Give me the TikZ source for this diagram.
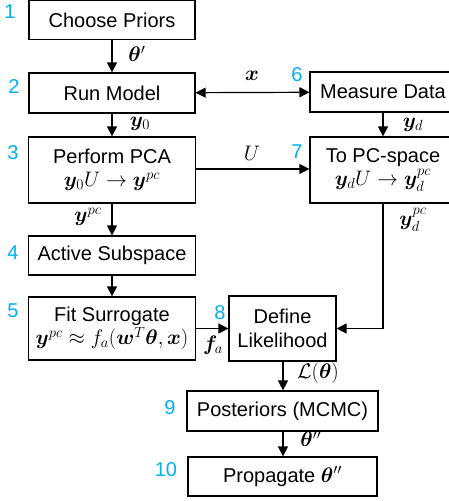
\documentclass[tikz,border=0pt]{standalone}
\usepackage{fix-cm}
\usepackage{amsmath,amssymb}
\usepackage{bm}
\usepackage{fontspec}
\setmainfont{Liberation Sans}
\usetikzlibrary{arrows.meta}
\definecolor{stepnum}{HTML}{00B0F0}
% slightly larger size for the formulas
\newcommand{\mathline}{\fontsize{21}{23}\selectfont}

\begin{document}
\begin{tikzpicture}[x=1pt,y=-1pt,
  box/.style={draw, line width=1.2pt, inner sep=0pt, align=center,
    font=\fontsize{20}{23}\selectfont},
  flow/.style={line width=1.2pt, -{Triangle[length=10pt,width=10pt]}},
  twoway/.style={line width=1.2pt, {Triangle[length=10pt,width=10pt]}-{Triangle[length=10pt,width=10pt]}},
  num/.style={text=stepnum, font=\fontsize{20}{24}\selectfont, inner sep=0pt},
  lbl/.style={font=\fontsize{21}{24}\selectfont, inner sep=0pt}]
\useasboundingbox (0,0) rectangle (449,501);
\clip (0,0) rectangle (449,501);

% process boxes
\node[box, minimum width=166pt, minimum height=39pt] (prior) at (112,20) {Choose Priors};
\node[box, minimum width=166pt, minimum height=40pt] (run) at (112,93) {Run Model};
\node[box, minimum width=146pt, minimum height=40pt] (meas) at (383,92) {Measure Data};
\node[box, minimum width=167pt, minimum height=66pt] (pca) at (112,170)
  {Perform PCA\\[0pt] {\mathline $\bm{y}_0U \rightarrow \bm{y}^{pc}$}};
\node[box, minimum width=146pt, minimum height=66pt] (pcs) at (383,170)
  {To PC-space\\[0pt] {\mathline $\bm{y}_dU \rightarrow \bm{y}_d^{pc}$}};
\node[box, minimum width=167pt, minimum height=39pt] (act) at (112,255.5) {Active Subspace};
\node[box, minimum width=167pt, minimum height=63pt] (fit) at (112,328.5)
  {Fit Surrogate\\[0pt] {\mathline $\bm{y}^{pc} \approx f_a(\bm{w}^T\bm{\theta},\bm{x})$}};
\node[box, minimum width=107pt, minimum height=65pt] (lik) at (282.5,328.5)
  {Define\\[1pt] Likelihood};
\node[box, minimum width=191pt, minimum height=40pt] (post) at (282.5,411) {Posteriors (MCMC)};
\node[box, minimum width=189pt, minimum height=39pt] (prop) at (282.5,476.5)
  {Propagate {\mathline $\bm{\theta}''$}};

% step numbers
\node[num] (n1) at (10,12) {1};
\node[num] (n2) at (14,87) {2};
\node[num] (n3) at (13,153) {3};
\node[num] (n4) at (13,253) {4};
\node[num] (n5) at (13,311) {5};
\node[num] (n6) at (297,75) {6};
\node[num] (n7) at (297,152) {7};
\node[num] (n8) at (220,313) {8};
\node[num] (n9) at (170,408) {9};
\node[num] (n10) at (166,470) {10};

% connectors
\draw[flow] (prior) -- (run);
\draw[flow] (run) -- (pca);
\draw[flow] (pca) -- (act);
\draw[flow] (act) -- (fit);
\draw[twoway] (run) -- (meas);
\draw[flow] (pca.east |- 0,169) -- (pcs.west |- 0,169);
\draw[flow] (meas) -- (pcs);
\draw[flow] (fit) -- (lik);
\draw[flow] (pcs.south) |- (lik.east);
\draw[flow] (lik.south -| 283,0) -- (post.north -| 283,0);
\draw[flow] (post.south -| 283,0) -- (prop.north -| 283,0);

% connector labels
\node[lbl] (l1) at (137,54) {$\bm{\theta}'$};
\node[lbl] (l2) at (140,124) {$\bm{y}_0$};
\node[lbl] (l3) at (252,76) {$\bm{x}$};
\node[lbl] (l4) at (252,153) {$U$};
\node[lbl] (l5) at (413,125) {$\bm{y}_d$};
\node[lbl] (l6) at (88,217) {$\bm{y}^{pc}$};
\node[lbl] (l7) at (413,220) {$\bm{y}_d^{pc}$};
\node[lbl] (l8) at (213,345) {$\bm{f}_a$};
\node[lbl] (l9) at (318,373) {$\mathcal{L}(\bm{\theta})$};
\node[lbl] (l10) at (311,439) {$\bm{\theta}''$};
\end{tikzpicture}
\end{document}
